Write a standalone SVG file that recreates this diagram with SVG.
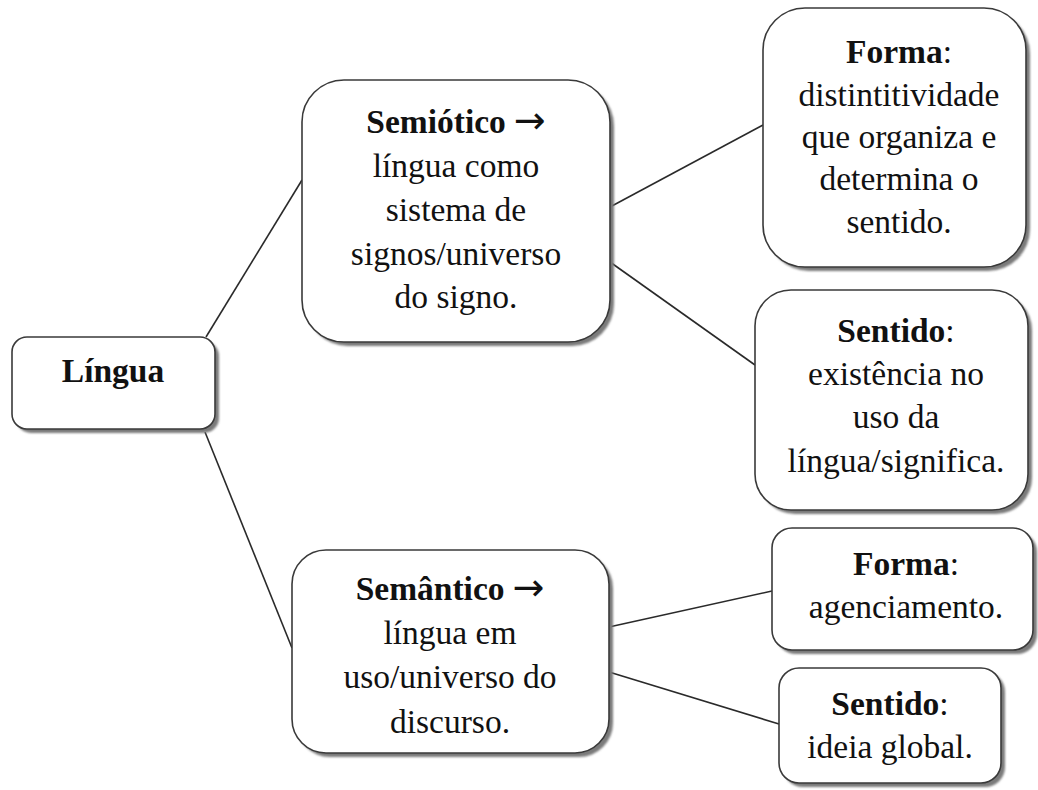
<svg xmlns="http://www.w3.org/2000/svg" width="1038" height="790" viewBox="0 0 1038 790">
<style>
.box{fill:#ffffff;stroke:#3a3a3a;stroke-width:1.6}
.sh{fill:#7a7a7a}
.t{font-family:"Liberation Serif","Times New Roman",serif;font-size:33.5px;fill:#111;text-anchor:middle}
.b{font-weight:bold}
.ar{font-family:"DejaVu Sans",sans-serif;font-size:38px;font-weight:normal}
.c{stroke:#2a2a2a;stroke-width:1.6;fill:none}
</style>
<defs>
<filter id="blur" x="-5%" y="-5%" width="110%" height="110%"><feGaussianBlur stdDeviation="0.8"/></filter>
</defs>
<rect width="1038" height="790" fill="#ffffff"/>
<g id="connectors">
<line class="c" x1="206" y1="337" x2="302" y2="180"/>
<line class="c" x1="205" y1="432" x2="292" y2="648"/>
<line class="c" x1="610" y1="207" x2="763" y2="125"/>
<line class="c" x1="610" y1="262" x2="755" y2="365"/>
<line class="c" x1="609" y1="627" x2="772" y2="591"/>
<line class="c" x1="609" y1="672" x2="779" y2="724"/>
</g>
<g id="lingua">
<rect class="sh" filter="url(#blur)" x="16" y="341" width="203" height="92" rx="15"/>
<rect class="box" x="12" y="337" width="203" height="92" rx="15"/>
<text class="t b" x="113" y="382">Língua</text>
</g>
<g id="semiotico">
<rect class="sh" filter="url(#blur)" x="306" y="84" width="308" height="262" rx="42"/>
<rect class="box" x="302" y="80" width="308" height="262" rx="42"/>
<text class="t" x="456" y="133"><tspan class="b">Semiótico</tspan><tspan class="ar" dx="8">→</tspan></text>
<text class="t" x="456" y="177">língua como</text>
<text class="t" x="456" y="221">sistema de</text>
<text class="t" x="456" y="265">signos/universo</text>
<text class="t" x="456" y="308">do signo.</text>
</g>
<g id="forma1">
<rect class="sh" filter="url(#blur)" x="767" y="12" width="263" height="259" rx="42"/>
<rect class="box" x="763" y="8" width="263" height="259" rx="42"/>
<text class="t" x="899" y="63"><tspan class="b">Forma</tspan>:</text>
<text class="t" x="899" y="106">distintitividade</text>
<text class="t" x="899" y="148">que organiza e</text>
<text class="t" x="899" y="190">determina o</text>
<text class="t" x="899" y="233">sentido.</text>
</g>
<g id="sentido1">
<rect class="sh" filter="url(#blur)" x="759" y="294" width="273" height="220" rx="36"/>
<rect class="box" x="755" y="290" width="273" height="220" rx="36"/>
<text class="t" x="896" y="342"><tspan class="b">Sentido</tspan>:</text>
<text class="t" x="896" y="385">existência no</text>
<text class="t" x="896" y="428">uso da</text>
<text class="t" x="896" y="472">língua/significa.</text>
</g>
<g id="semantico">
<rect class="sh" filter="url(#blur)" x="296" y="554" width="317" height="203" rx="34"/>
<rect class="box" x="292" y="550" width="317" height="203" rx="34"/>
<text class="t" x="450" y="600"><tspan class="b">Semântico</tspan><tspan class="ar" dx="8">→</tspan></text>
<text class="t" x="450" y="644">língua em</text>
<text class="t" x="450" y="688">uso/universo do</text>
<text class="t" x="450" y="733">discurso.</text>
</g>
<g id="forma2">
<rect class="sh" filter="url(#blur)" x="776" y="532" width="261" height="122" rx="20"/>
<rect class="box" x="772" y="528" width="261" height="122" rx="20"/>
<text class="t" x="906" y="575"><tspan class="b">Forma</tspan>:</text>
<text class="t" x="906" y="618">agenciamento.</text>
</g>
<g id="sentido2">
<rect class="sh" filter="url(#blur)" x="783" y="672" width="222" height="115" rx="20"/>
<rect class="box" x="779" y="668" width="222" height="115" rx="20"/>
<text class="t" x="890" y="715"><tspan class="b">Sentido</tspan>:</text>
<text class="t" x="890" y="758">ideia global.</text>
</g>
</svg>
